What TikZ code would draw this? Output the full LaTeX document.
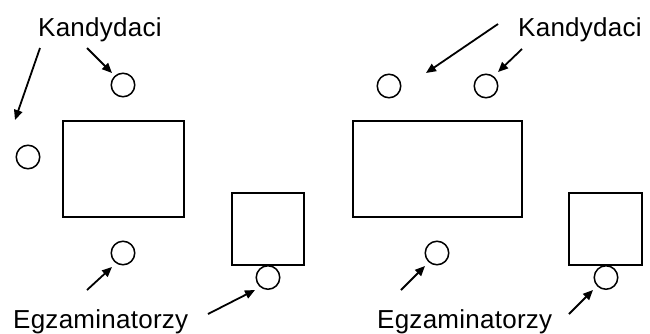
\documentclass[tikz,border=0pt]{standalone}
\usepackage{fontspec}
\setmainfont{Liberation Sans}[LetterSpace=1]
\usetikzlibrary{arrows.meta}

\tikzset{
  seat/.style={circle, draw, line width=1.5pt, minimum size=23.5pt, inner sep=0pt},
  desk/.style={draw, line width=1.4pt},
  pointer/.style={line width=1.8pt, -{Triangle[length=10pt, width=8.5pt]}},
  tag/.style={anchor=base west, inner sep=0pt, font=\fontsize{26}{30}\selectfont}
}

\begin{document}
\begin{tikzpicture}[x=1pt, y=-1pt]
  \useasboundingbox (0,0) rectangle (650,333);

  % ---- left room ----
  \node[tag] (kandL) at (38,36) {Kandydaci};
  \node[tag] (egzL) at (13,328) {Egzaminatorzy};

  \draw[desk] (63,121) rectangle (184,217);
  \draw[desk] (232,193) rectangle (304,265);

  \node[seat] (sL1) at (28,157) {};
  \node[seat] (sL2) at (123,85) {};
  \node[seat] (sL3) at (123,253) {};
  \node[seat] (sL4) at (268,277.5) {};

  \coordinate (kL1s) at (40,48);   \coordinate (kL1e) at (15,120);
  \coordinate (kL2s) at (87,48);   \coordinate (kL2e) at (112,73);
  \coordinate (eL1s) at (87,290);  \coordinate (eL1e) at (112,267);
  \coordinate (eL2s) at (208,314); \coordinate (eL2e) at (255,290);

  \draw[pointer] (kL1s) -- (kL1e);
  \draw[pointer] (kL2s) -- (kL2e);
  \draw[pointer] (eL1s) -- (eL1e);
  \draw[pointer] (eL2s) -- (eL2e);

  % ---- right room ----
  \node[tag] (kandR) at (518,36) {Kandydaci};
  \node[tag] (egzR) at (377,328) {Egzaminatorzy};

  \draw[desk] (353,121) rectangle (522,217);
  \draw[desk] (569,193) rectangle (642,265);

  \node[seat] (sR1) at (389,86) {};
  \node[seat] (sR2) at (486,86) {};
  \node[seat] (sR3) at (437,253) {};
  \node[seat] (sR4) at (606,277.5) {};

  \coordinate (kR1s) at (498,24);  \coordinate (kR1e) at (426,73);
  \coordinate (kR2s) at (522,49);  \coordinate (kR2e) at (498,72);
  \coordinate (eR1s) at (401,290); \coordinate (eR1e) at (425,266);
  \coordinate (eR2s) at (569,314); \coordinate (eR2e) at (593,290);

  \draw[pointer] (kR1s) -- (kR1e);
  \draw[pointer] (kR2s) -- (kR2e);
  \draw[pointer] (eR1s) -- (eR1e);
  \draw[pointer] (eR2s) -- (eR2e);
\end{tikzpicture}
\end{document}
